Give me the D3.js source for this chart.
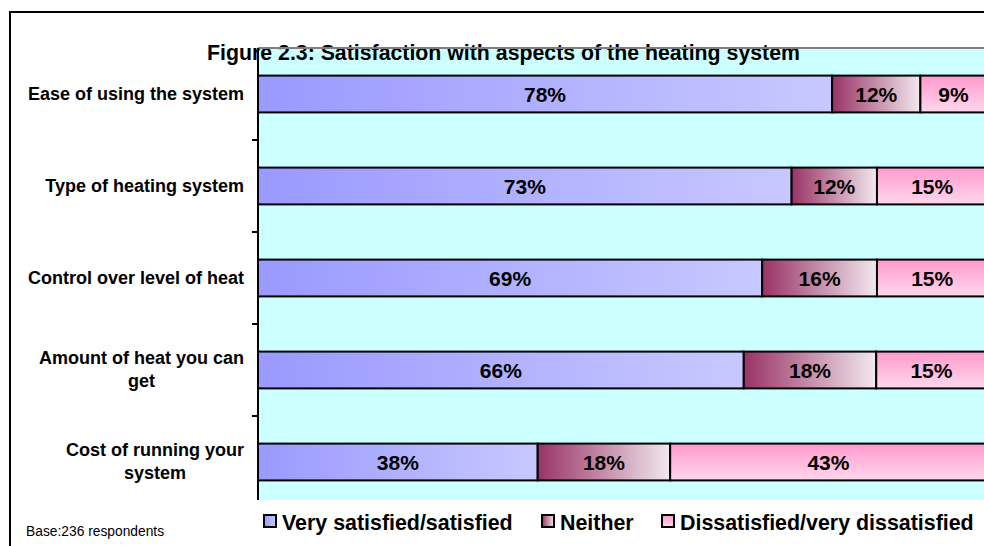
<!DOCTYPE html>
<html>
<head>
<meta charset="utf-8">
<script src="https://cdn.jsdelivr.net/npm/d3@7/dist/d3.min.js"></script>
<style>
  body { margin: 0; background: #fff; }
  svg { display: block; font-family: "Liberation Sans", Arial, sans-serif; }
</style>
</head>
<body>
<div id="chart-area"></div>
<script>
// data
var categories = [
    "Ease of using the system",
    "Type of heating system",
    "Control over level of heat",
    "Amount of heat you can\nget",
    "Cost of running your\nsystem"
];
var seriesNames = ["Very satisfied/satisfied", "Neither", "Dissatisfied/very dissatisfied"];
var verySatisfied = [78, 72.5, 68.5, 66, 38];
var neither = [12, 11.6, 15.6, 18, 18];
var dissatisfied = [9, 15, 15, 15, 43];
var xDomain = [0, 100];

var W = 984, H = 546;
var plot = { left: 258, top: 48, bottom: 500, right: 994 };

var svg = d3.select('#chart-area').append('svg')
    .attr('width', W)
    .attr('height', H);

// gradients
var defs = svg.append('defs');
function grad(id, vertical, c0, c1) {
    var g = defs.append('linearGradient').attr('id', id)
        .attr('x1', 0).attr('y1', 0)
        .attr('x2', vertical ? 0 : 1).attr('y2', vertical ? 1 : 0);
    g.append('stop').attr('offset', '0%').attr('stop-color', c0);
    g.append('stop').attr('offset', '100%').attr('stop-color', c1);
}
grad('g0', false, '#9999ff', '#c8c8ff');
grad('g1', false, '#993366', '#f2e8ee');
grad('g2', true, '#ff99cc', '#ffd8ec');
var fills = ['url(#g0)', 'url(#g1)', 'url(#g2)'];

// outer frame
svg.append('path')
    .attr('d', 'M10,' + H + 'V12H' + W)
    .attr('fill', 'none')
    .attr('stroke', '#000')
    .attr('stroke-width', 2);

// plot area background
svg.append('rect')
    .attr('x', plot.left).attr('y', plot.top)
    .attr('width', W - plot.left).attr('height', plot.bottom - plot.top)
    .attr('fill', '#ccffff');

// title (sits partly over the plot area)
svg.append('text')
    .attr('x', 503.5).attr('y', 59.5)
    .attr('text-anchor', 'middle')
    .attr('font-size', 21.3)
    .attr('font-weight', 'bold')
    .text('Figure 2.3: Satisfaction with aspects of the heating system');

svg.append('line')
    .attr('x1', plot.left).attr('x2', W)
    .attr('y1', plot.top).attr('y2', plot.top)
    .attr('stroke', '#808080').attr('stroke-width', 2);

var theX = d3.scaleLinear()
    .domain(xDomain)
    .range([plot.left, plot.right]);

var theY = d3.scaleBand()
    .domain(categories)
    .range([plot.top, plot.top + 92 * categories.length])
    .paddingInner(0.6)
    .paddingOuter(0.3);

var rows = categories.map(function(c, i) {
    return { cat: c, s0: verySatisfied[i], s1: neither[i], s2: dissatisfied[i] };
});
var stacked = d3.stack().keys(['s0', 's1', 's2'])(rows);

var layers = svg.append('g').selectAll('g')
    .data(stacked)
    .enter()
    .append('g')
        .attr('fill', function(d, i) { return fills[i]; });

layers.selectAll('rect')
    .data(function(d) { return d; })
    .enter()
    .append('rect')
        .attr('x', function(d) { return theX(d[0]); })
        .attr('y', function(d) { return theY(d.data.cat); })
        .attr('width', function(d) { return theX(d[1]) - theX(d[0]); })
        .attr('height', theY.bandwidth())
        .attr('stroke', '#000')
        .attr('stroke-width', 2);

// data labels
layers.selectAll('text')
    .data(function(d) { return d; })
    .enter()
    .append('text')
        .attr('x', function(d) { return (theX(d[0]) + theX(d[1])) / 2; })
        .attr('y', function(d) { return theY(d.data.cat) + theY.bandwidth() / 2 + 7.5; })
        .attr('text-anchor', 'middle')
        .attr('font-size', 21)
        .attr('font-weight', 'bold')
        .attr('fill', '#000')
        .text(function(d) { return Math.round(d[1] - d[0]) + '%'; });

// category axis
svg.append('line')
    .attr('x1', plot.left).attr('x2', plot.left)
    .attr('y1', plot.top).attr('y2', plot.bottom)
    .attr('stroke', '#000').attr('stroke-width', 2);

var step = theY.step();
svg.append('g').selectAll('line')
    .data(categories.slice(1))
    .enter()
    .append('line')
        .attr('x1', plot.left - 6).attr('x2', plot.left)
        .attr('y1', function(d) { return theY(d) - (step - theY.bandwidth()) / 2; })
        .attr('y2', function(d) { return theY(d) - (step - theY.bandwidth()) / 2; })
        .attr('stroke', '#000').attr('stroke-width', 2);

var labelRight = 244, lineH = 23.5;
categories.forEach(function(c) {
    var lines = c.split('\n');
    var cy = theY(c) + theY.bandwidth() / 2;
    var t = svg.append('text')
        .attr('font-size', 18)
        .attr('font-weight', 'bold')
        .attr('text-anchor', 'middle');
    var spans = lines.map(function(l, i) {
        return t.append('tspan')
            .attr('y', cy + 5.5 - (lines.length - 1) * lineH / 2 + i * lineH)
            .text(l);
    });
    var maxW = d3.max(spans, function(s) { return s.node().getComputedTextLength(); });
    spans.forEach(function(s) { s.attr('x', labelRight - maxW / 2); });
});

// legend
var legendX = [263, 541, 661];
var legend = svg.append('g').selectAll('g')
    .data(seriesNames)
    .enter()
    .append('g')
        .attr('transform', function(d, i) { return 'translate(' + legendX[i] + ',515)'; });
legend.append('rect')
    .attr('x', 1).attr('y', 0)
    .attr('width', 12).attr('height', 12)
    .attr('fill', function(d, i) { return fills[i]; })
    .attr('stroke', '#000').attr('stroke-width', 2);
legend.append('text')
    .attr('x', 19).attr('y', 14.5)
    .attr('font-size', 21.4)
    .attr('font-weight', 'bold')
    .text(function(d) { return d; });

svg.append('text')
    .attr('x', 26).attr('y', 536)
    .attr('font-size', 13.8)
    .text('Base:236 respondents');
</script>
</body>
</html>
